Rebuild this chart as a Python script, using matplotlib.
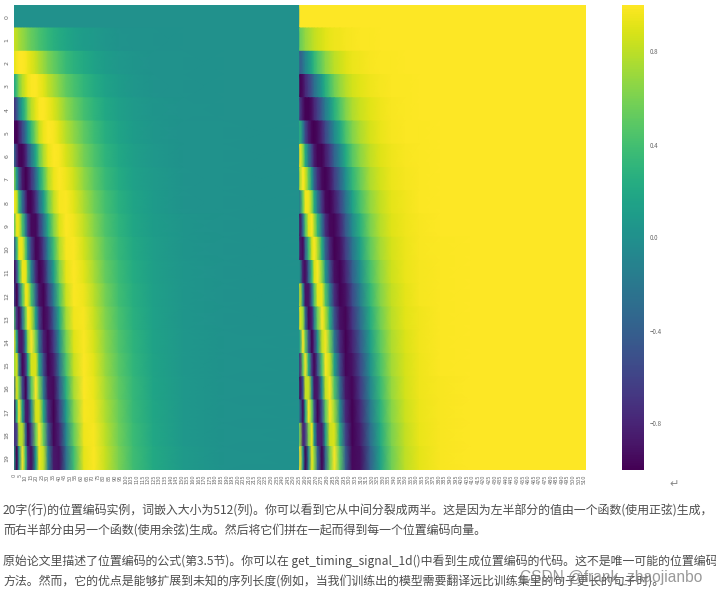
import matplotlib
matplotlib.use("Agg")
import matplotlib.pyplot as plt
import numpy as np

plt.rcParams['font.family'] = ['Noto Sans CJK SC', 'DejaVu Sans']
plt.rcParams['axes.unicode_minus'] = True

W, H = 716, 594

# column positions where values were read, inside each half of the 512 columns
knot_cols = [0, 3, 5, 8, 11, 13, 16, 20, 23, 27, 31, 36, 41, 47, 54, 63, 72, 82, 94, 107, 125, 152, 188, 256]

# left half, one list per row
left_rows = [
    [0] * 24,
    [.84, .79, .73, .68, .63, .58, .53, .47, .42, .37, .32, .27, .22, .18, .14, .10, .08, .05, .03, .02, .01, 0, 0, 0],
    [.91, .97, 1.0, 1.0, .98, .94, .90, .83, .76, .69, .60, .52, .44, .35, .28, .21, .15, .10, .07, .04, .02, .01, 0, 0],
    [.14, .41, .62, .78, .89, .96, .99, 1.0, .96, .91, .82, .73, .63, .51, .42, .31, .22, .15, .10, .06, .03, .01, 0, 0],
    [-.76, -.47, -.15, .15, .41, .63, .79, .92, .99, 1.0, .96, .89, .79, .66, .54, .40, .30, .20, .13, .08, .04, .02, 0, 0],
    [-.96, -.99, -.83, -.56, -.25, .06, .34, .63, .83, .95, 1.0, .98, .90, .78, .66, .50, .37, .25, .17, .10, .05, .02, .01, 0],
    [-.28, -.74, -.97, -.97, -.80, -.52, -.21, .19, .52, .76, .93, 1.0, .98, .88, .76, .58, .44, .30, .20, .12, .07, .02, .01, 0],
    [.66, .07, -.49, -.87, -1.0, -.92, -.70, -.30, .12, .46, .77, .94, 1.0, .95, .85, .67, .50, .35, .23, .14, .08, .03, .01, 0],
    [.99, .83, .31, -.30, -.75, -.98, -.97, -.71, -.31, .10, .53, .81, .97, .99, .91, .74, .57, .40, .27, .17, .09, .03, .01, 0],
    [.41, .95, .90, .43, -.17, -.67, -.95, -.96, -.68, -.28, .23, .62, .89, 1.0, .96, .81, .63, .44, .30, .18, .10, .04, .01, 0],
    [-.54, .33, .93, .93, .48, -.12, -.64, -.98, -.92, -.61, -.09, .38, .77, .97, .99, .86, .69, .49, .33, .21, .11, .04, .01, 0],
    [-1.0, -.53, .35, .93, .93, .48, -.13, -.76, -1.0, -.86, -.40, .12, .61, .92, 1.0, .91, .74, .53, .36, .23, .12, .05, .01, 0],
    [-.54, -1.0, -.44, .43, .96, .90, .40, -.37, -.89, -.99, -.67, -.16, .42, .83, .99, .95, .79, .58, .39, .25, .13, .05, .01, 0],
    [.42, -.70, -.96, -.28, .57, .99, .83, .11, -.62, -.97, -.87, -.42, .20, .72, .96, .98, .83, .62, .42, .27, .14, .05, .01, 0],
    [.99, .14, -.86, -.87, -.08, .71, 1.0, .57, -.23, -.82, -.98, -.65, -.02, .58, .90, .99, .87, .66, .45, .29, .15, .06, .02, 0],
    [.65, .86, -.22, -.97, -.70, .19, .86, .89, .20, -.55, -.99, -.83, -.25, .43, .83, 1.0, .91, .69, .48, .31, .16, .06, .02, 0],
    [-.29, .88, .58, -.56, -.99, -.43, .47, 1.0, .59, -.20, -.90, -.95, -.46, .26, .74, 1.0, .93, .73, .51, .33, .17, .07, .02, 0],
    [-.96, .27, .99, .15, -.86, -.87, -.07, .87, .87, .18, -.72, -1.0, -.64, .08, .64, .98, .96, .76, .54, .34, .18, .07, .02, 0],
    [-.75, -.60, .76, .79, -.34, -1.0, -.60, .54, 1.0, .53, -.45, -.97, -.80, -.10, .52, .95, .98, .80, .57, .36, .19, .07, .02, 0],
    [.15, -1.0, .05, 1.0, .33, -.76, -.93, .08, .94, .81, -.15, -.87, -.92, -.28, .39, .92, .99, .83, .60, .38, .21, .08, .02, 0],
]

# right half, one list per row
right_rows = [
    [1] * 24,
    [.54, .61, .68, .73, .78, .82, .85, .88, .91, .93, .95, .96, .97, .98, .99, .99, 1, 1, 1, 1, 1, 1, 1, 1],
    [-.42, -.24, -.08, .07, .21, .33, .44, .55, .65, .72, .80, .85, .90, .94, .96, .98, .99, .99, 1, 1, 1, 1, 1, 1],
    [-.99, -.92, -.78, -.62, -.45, -.27, -.11, .09, .27, .42, .57, .68, .78, .86, .91, .95, .97, .99, .99, 1, 1, 1, 1, 1],
    [-.65, -.88, -.99, -.99, -.91, -.78, -.62, -.39, -.16, .05, .27, .45, .62, .75, .84, .91, .95, .98, .99, 1, 1, 1, 1, 1],
    [.28, -.17, -.56, -.83, -.97, -1.0, -.94, -.78, -.56, -.32, -.04, .19, .43, .62, .75, .87, .93, .97, .99, .99, 1, 1, 1, 1],
    [.96, .67, .23, -.22, -.60, -.85, -.98, -.98, -.85, -.65, -.36, -.08, .21, .47, .65, .81, .90, .95, .98, .99, 1, 1, 1, 1],
    [.75, 1.0, .87, .50, .04, -.39, -.72, -.95, -.99, -.89, -.64, -.35, -.01, .31, .53, .75, .86, .94, .97, .99, 1, 1, 1, 1],
    [-.15, .56, .95, .95, .66, .21, -.24, -.70, -.95, -.99, -.85, -.59, -.24, .13, .41, .67, .82, .92, .96, .99, 1, 1, 1, 1],
    [-.91, -.30, .43, .90, .98, .74, .31, -.28, -.74, -.96, -.97, -.79, -.45, -.05, .27, .59, .78, .90, .95, .98, 1, 1, 1, 1],
    [-.84, -.94, -.38, .36, .88, .99, .77, .21, -.38, -.79, -1.0, -.92, -.64, -.23, .13, .51, .73, .87, .94, .98, .99, 1, 1, 1],
    [0, -.84, -.94, -.37, .38, .88, .99, .64, .04, -.51, -.92, -.99, -.79, -.40, -.01, .41, .67, .85, .93, .97, .99, 1, 1, 1],
    [.84, -.09, -.90, -.90, -.29, .44, .92, .93, .45, -.15, -.74, -.99, -.91, -.56, -.16, .32, .62, .82, .92, .97, .99, 1, 1, 1],
    [.91, .71, -.28, -.96, -.82, -.15, .56, .99, .78, .23, -.49, -.91, -.98, -.69, -.30, .22, .56, .79, .91, .96, .99, 1, 1, 1],
    [.14, .99, .51, -.50, -1.0, -.70, .02, .82, .97, .57, -.19, -.76, -1.0, -.81, -.43, .11, .49, .75, .89, .96, .99, 1, 1, 1],
    [-.76, .51, .98, .22, -.71, -.98, -.51, .45, .98, .83, .13, -.56, -.97, -.90, -.56, .01, .42, .72, .87, .95, .99, 1, 1, 1],
    [-.96, -.47, .81, .83, -.13, -.90, -.88, -.02, .81, .98, .44, -.31, -.89, -.97, -.67, -.09, .35, .68, .86, .95, .98, 1, 1, 1],
    [-.28, -.96, .13, .99, .52, -.50, -1.0, -.49, .49, .98, .70, -.04, -.77, -1.0, -.77, -.20, .28, .64, .84, .94, .98, 1, 1, 1],
    [.66, -.80, -.65, .62, .94, .08, -.80, -.84, .07, .85, .89, .24, -.60, -.99, -.85, -.30, .21, .60, .82, .93, .98, 1, 1, 1],
    [.99, -.03, -1.0, -.08, .94, .65, -.37, -1.0, -.35, .59, .99, .49, -.41, -.96, -.92, -.39, .14, .56, .80, .92, .98, 1, 1, 1],
]

x_ticks = list(range(0, 512, 5))
y_ticks = list(range(20))
cbar_ticks = [-0.8, -0.4, 0.0, 0.4, 0.8]

text_lines = [
    "20字(行)的位置编码实例，词嵌入大小为512(列)。你可以看到它从中间分裂成两半。这是因为左半部分的值由一个函数(使用正弦)生成，",
    "而右半部分由另一个函数(使用余弦)生成。然后将它们拼在一起而得到每一个位置编码向量。",
    "原始论文里描述了位置编码的公式(第3.5节)。你可以在 get_timing_signal_1d()中看到生成位置编码的代码。这不是唯一可能的位置编码",
    "方法。然而，它的优点是能够扩展到未知的序列长度(例如，当我们训练出的模型需要翻译远比训练集里的句子更长的句子时)。",
]
text_y = [511, 531, 561, 581]


def pixel_axes(fig, x0, y0, x1, y1):
    return fig.add_axes([x0 / W, 1 - y1 / H, (x1 - x0) / W, (y1 - y0) / H])


fig = plt.figure(figsize=(W / 100, H / 100), dpi=100)
ax = pixel_axes(fig, 13.5, 5, 586, 470)
cax = pixel_axes(fig, 622, 5, 644, 470)

left_x = np.array(knot_cols)
right_x = left_x + 256
for i in range(20):
    row_y = [i - 0.01, i + 1.01]
    mesh = ax.pcolormesh(left_x, row_y, [left_rows[i], left_rows[i]], cmap="viridis", vmin=-1, vmax=1, shading="gouraud")
    ax.pcolormesh(right_x, row_y, [right_rows[i], right_rows[i]], cmap="viridis", vmin=-1, vmax=1, shading="gouraud")

ax.set_xlim(0, 512)
ax.set_ylim(20, 0)
ax.set_xticks([t + 0.5 for t in x_ticks])
ax.set_xticklabels(x_ticks, rotation=90, fontsize=3.6, color="#666666", family="DejaVu Sans")
ax.set_yticks([t + 0.5 for t in y_ticks])
ax.set_yticklabels(y_ticks, rotation=90, va="center", fontsize=4.5, color="#666666", family="DejaVu Sans")
ax.tick_params(length=0, pad=3)
for spine in ax.spines.values():
    spine.set_visible(False)

cbar = fig.colorbar(mesh, cax=cax, ticks=cbar_ticks)
cbar.outline.set_visible(False)
cbar.ax.tick_params(length=0, pad=4, labelsize=4.5, labelcolor="#666666")

for line, y in zip(text_lines, text_y):
    fig.text(3 / W, 1 - y / H, line, fontsize=8.6, color="#4d4d4d", va="center", ha="left")

fig.text(674 / W, 1 - 484 / H, "↵", fontsize=8, color="#888888", ha="center", va="center")
fig.text(520 / W, 1 - 577 / H, "CSDN @frank_zhaojianbo", fontsize=11.2, color="#808080", alpha=0.8,
         ha="left", va="center", family=["Liberation Sans", "DejaVu Sans"])

fig.savefig("out.png", dpi=100)
